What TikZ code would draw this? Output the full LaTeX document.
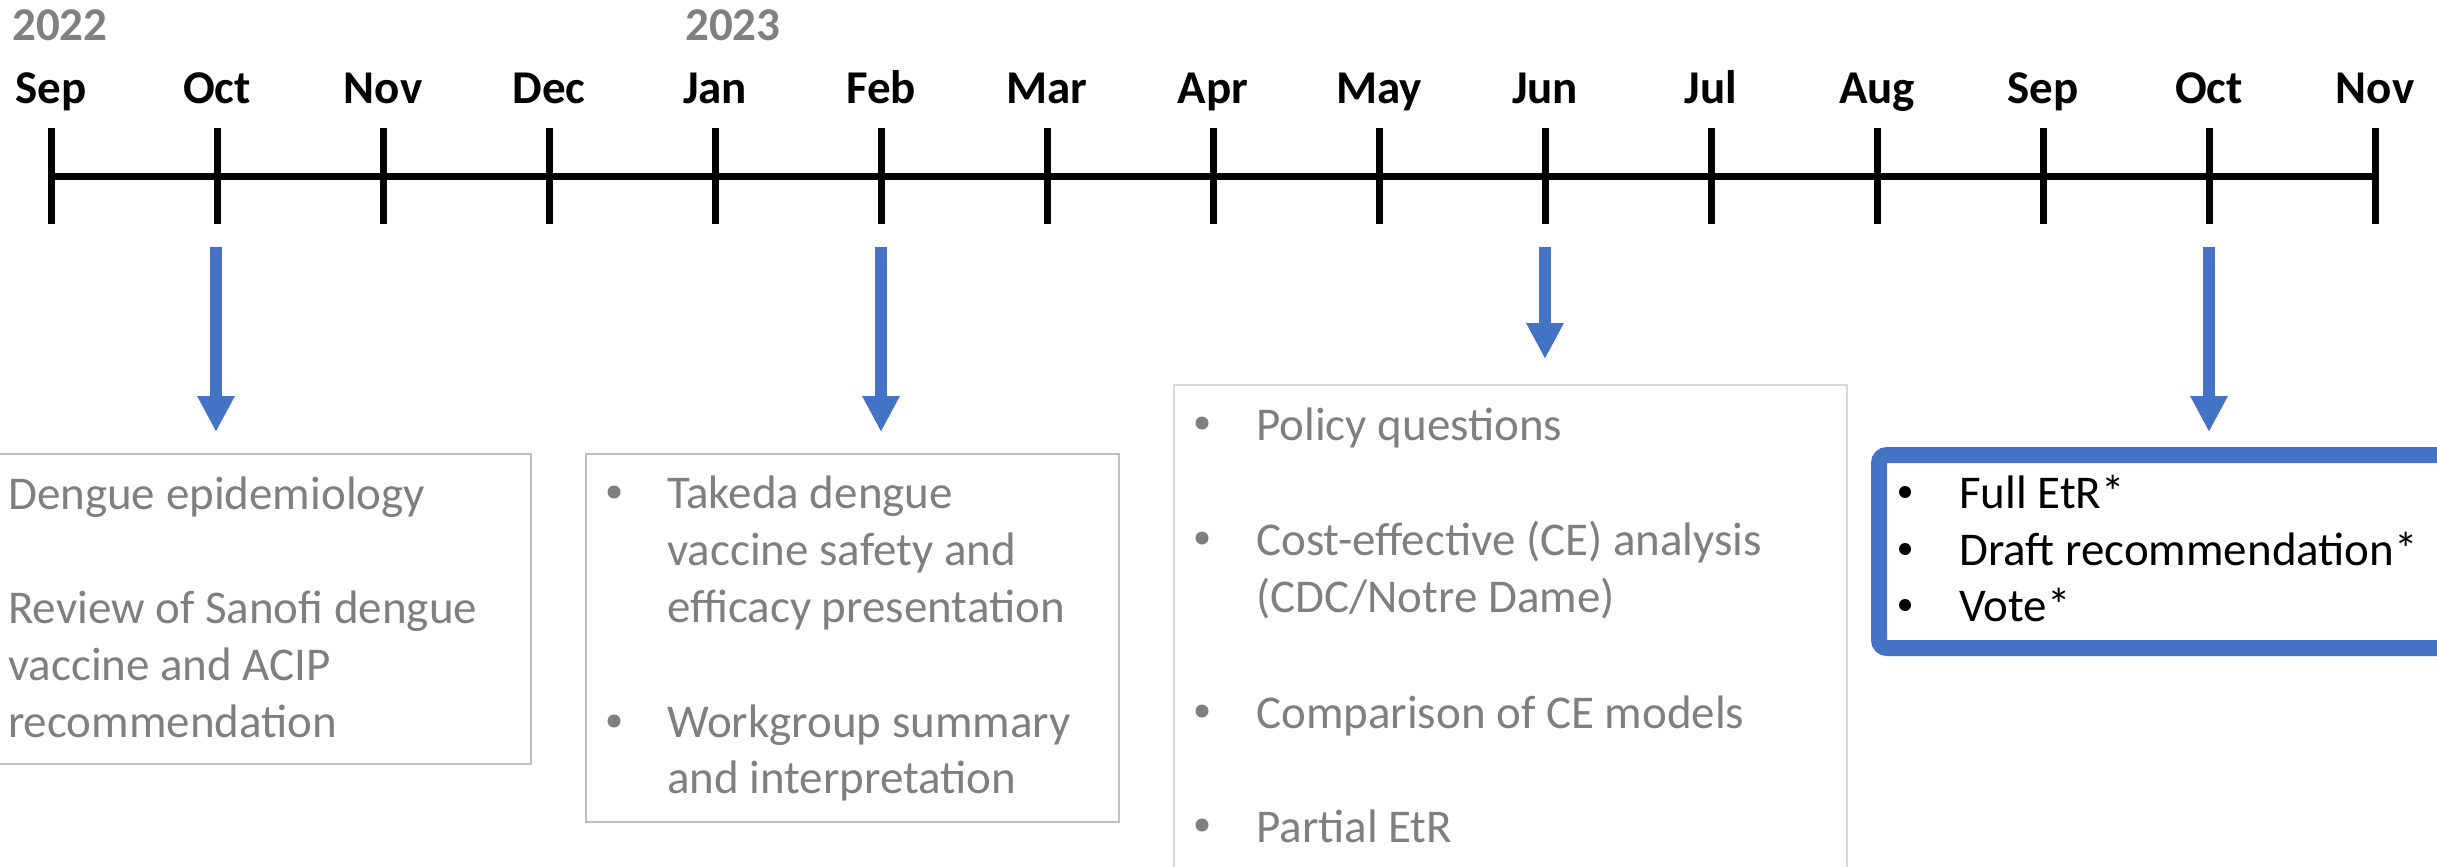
\documentclass[tikz,border=0pt]{standalone}
\usepackage{fontspec}
\setmainfont{Carlito}
\usetikzlibrary{arrows.meta}
\definecolor{acblue}{HTML}{4472C4}
\definecolor{txtgray}{HTML}{7F7F7F}
\definecolor{boxgray}{HTML}{BFBFBF}
\definecolor{paleborder}{HTML}{D9D9D9}
\definecolor{yeargray}{HTML}{808080}
\begin{document}
\begin{tikzpicture}[x=1pt,y=-1pt,
  monthlbl/.style={font=\fontsize{47}{57}\selectfont\bfseries, anchor=base, inner sep=0pt},
  yearlbl/.style={font=\fontsize{47}{57}\selectfont\bfseries, text=yeargray, anchor=base west, inner sep=0pt},
  grayline/.style={font=\fontsize{47}{57}\selectfont, text=txtgray, anchor=base west, inner sep=0pt},
  blackline/.style={font=\fontsize{47}{57}\selectfont, text=black, anchor=base west, inner sep=0pt},
  axisline/.style={line width=7pt, line cap=butt},
  tickline/.style={line width=7pt, line cap=butt},
  bluearrow/.style={draw=acblue, line width=12pt, -{Triangle[width=35pt,length=36pt]}},
  graybox/.style={draw=boxgray, line width=2.5pt, inner sep=0pt},
  palebox/.style={draw=paleborder, line width=1.5pt, inner sep=0pt},
  bluebox/.style={draw=acblue, line width=16pt, rounded corners=8pt, inner sep=0pt},
  graybullet/.style={fill=txtgray},
  blackbullet/.style={fill=black}
]
\useasboundingbox (0,0) rectangle (2437,867);

% timeline
\foreach \m [count=\i from 0] in {Sep,Oct,Nov,Dec,Jan,Feb,Mar,Apr,May,Jun,Jul,Aug,Sep,Oct,Nov} {
  \coordinate (t\i) at (51+166*\i,176);
  \draw[tickline] ([yshift=48pt]t\i) -- ([yshift=-48pt]t\i);
  \node[monthlbl] (m\i) at (51+166*\i,103) {\m};
}
\draw[axisline] (t0) -- (t14);
\node[yearlbl] (y2022) at (12,41) {2022};
\node[yearlbl] (y2023) at (685,41) {2023};

% arrows
\coordinate (a1s) at (216,247); \coordinate (a1e) at (216,432);
\coordinate (a2s) at (881,247); \coordinate (a2e) at (881,432);
\coordinate (a3s) at (1545,247); \coordinate (a3e) at (1545,359);
\coordinate (a4s) at (2209,247); \coordinate (a4e) at (2209,432);
\draw[bluearrow] (a1s) -- (a1e);
\draw[bluearrow] (a2s) -- (a2e);
\draw[bluearrow] (a3s) -- (a3e);
\draw[bluearrow] (a4s) -- (a4e);

% boxes
\node[graybox, minimum width=561pt, minimum height=310pt] (box1) at (250.5,609) {};
\node[graybox, minimum width=533pt, minimum height=368pt] (box2) at (852.5,638) {};
\node[palebox, minimum width=673pt, minimum height=535pt] (box3) at (1510.5,652.5) {};
\node[bluebox, minimum width=591pt, minimum height=193pt] (box4) at (2174.5,551.5) {};

% box 1 text
\node[grayline] (b1l1) at (8,509) {Dengue epidemiology};
\node[grayline] (b1l2) at (8,623) {Review of Sanofi dengue};
\node[grayline] (b1l3) at (8,680) {vaccine and ACIP};
\node[grayline] (b1l4) at (8,737) {recommendation};

% box 2 text
\fill[graybullet] (614,492) circle (6.5pt);
\fill[graybullet] (614,721) circle (6.5pt);
\node[grayline] (b2l1) at (667,508) {Takeda dengue};
\node[grayline] (b2l2) at (667,565) {vaccine safety and};
\node[grayline] (b2l3) at (667,622) {efficacy presentation};
\node[grayline] (b2l4) at (667,737) {Workgroup summary};
\node[grayline] (b2l5) at (667,793) {and interpretation};

% box 3 text
\fill[graybullet] (1202,423) circle (6.5pt);
\fill[graybullet] (1202,538) circle (6.5pt);
\fill[graybullet] (1202,711) circle (6.5pt);
\fill[graybullet] (1202,825) circle (6.5pt);
\node[grayline] (b3l1) at (1256,440) {Policy questions};
\node[grayline] (b3l2) at (1256,555) {Cost-effective (CE) analysis};
\node[grayline] (b3l3) at (1256,612) {(CDC/Notre Dame)};
\node[grayline] (b3l4) at (1256,728) {Comparison of CE models};
\node[grayline] (b3l5) at (1256,842) {Partial EtR};

% box 4 text
\fill[blackbullet] (1905,492) circle (6pt);
\fill[blackbullet] (1905,549) circle (6pt);
\fill[blackbullet] (1905,605) circle (6pt);
\node[blackline] (b4l1) at (1959,508) {Full EtR*};
\node[blackline] (b4l2) at (1959,565) {Draft recommendation*};
\node[blackline] (b4l3) at (1959,621) {Vote*};
\end{tikzpicture}
\end{document}
